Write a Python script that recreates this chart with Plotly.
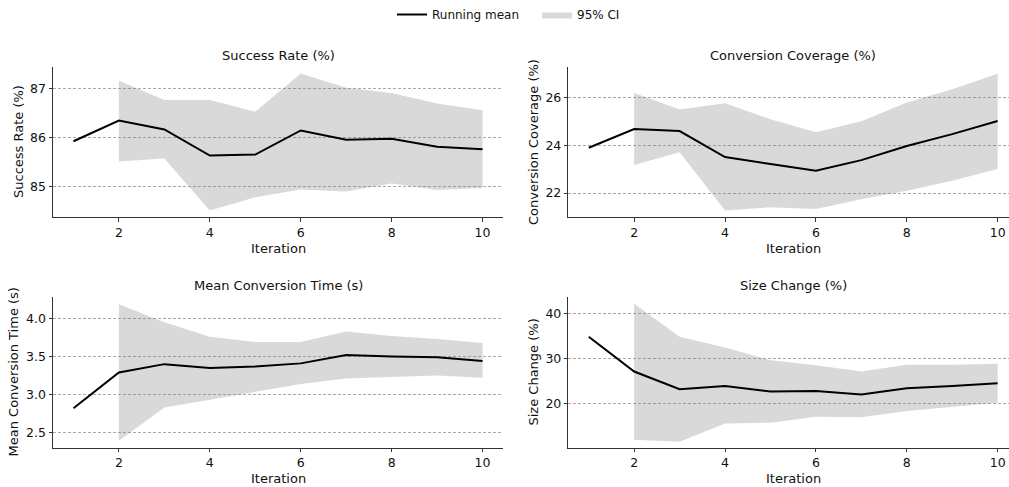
import plotly.graph_objects as go

W, H = 1009, 487

iterations = [1, 2, 3, 4, 5, 6, 7, 8, 9, 10]
ci_iterations = [2, 3, 4, 5, 6, 7, 8, 9, 10]

success_mean = [85.92, 86.34, 86.16, 85.63, 85.65, 86.14, 85.95, 85.97, 85.81, 85.76]
success_hi = [87.15, 86.76, 86.76, 86.52, 87.30, 87.01, 86.90, 86.69, 86.55]
success_lo = [85.51, 85.57, 84.51, 84.78, 84.94, 84.90, 85.06, 84.93, 84.97]

coverage_mean = [23.90, 24.68, 24.60, 23.51, 23.22, 22.94, 23.38, 23.97, 24.47, 25.02]
coverage_hi = [26.19, 25.50, 25.76, 25.09, 24.55, 25.01, 25.79, 26.35, 27.00]
coverage_lo = [23.18, 23.71, 21.27, 21.41, 21.33, 21.74, 22.10, 22.52, 23.01]

time_mean = [2.82, 3.29, 3.40, 3.35, 3.37, 3.41, 3.52, 3.50, 3.49, 3.44]
time_hi = [4.19, 3.95, 3.76, 3.69, 3.69, 3.83, 3.77, 3.73, 3.68]
time_lo = [2.39, 2.83, 2.93, 3.04, 3.14, 3.21, 3.23, 3.25, 3.22]

size_mean = [34.8, 27.1, 23.2, 23.9, 22.7, 22.8, 22.0, 23.4, 23.9, 24.5]
size_hi = [42.1, 34.8, 32.4, 29.6, 28.5, 27.1, 28.6, 28.6, 28.8]
size_lo = [12.0, 11.6, 15.6, 15.8, 17.1, 17.0, 18.4, 19.3, 20.2]

titles = ["Success Rate (%)", "Conversion Coverage (%)", "Mean Conversion Time (s)", "Size Change (%)"]
ylabels = ["Success Rate (%)", "Conversion Coverage (%)", "Mean Conversion Time (s)", "Size Change (%)"]
x_ticks = [2, 4, 6, 8, 10]
y_ticks = [[85, 86, 87], [22, 24, 26], [2.5, 3.0, 3.5, 4.0], [20, 30, 40]]
y_ranges = [[84.38, 87.43], [21.0, 27.28], [2.30, 4.28], [10.27, 43.5]]
x_ranges = [[0.55, 10.45], [0.55, 10.25], [0.55, 10.45], [0.55, 10.25]]

series = [
    (success_mean, success_lo, success_hi),
    (coverage_mean, coverage_lo, coverage_hi),
    (time_mean, time_lo, time_hi),
    (size_mean, size_lo, size_hi),
]

# panel pixel boxes: (left, right, top, bottom)
boxes = [(53, 503, 67, 217), (568.3, 1009, 67, 217), (53, 503, 297.3, 447.7), (568.3, 1009, 297.3, 447.7)]
title_pos = [(278, 55.5), (793, 55.5), (278, 285.7), (793, 285.7)]
xlabel_pos = [(278, 248), (793, 248), (278, 478), (793, 478)]
ylabel_pos = [(18, 142), (533, 142), (13, 372.5), (533, 372.5)]

FILL = "rgba(128,128,128,0.3)"
FONT = "DejaVu Sans"
TXT = "#111"

fig = go.Figure()
layout = {}
annotations = []
for i, (m, lo, hi) in enumerate(series):
    k = "" if i == 0 else str(i + 1)
    xa, ya = "x" + k, "y" + k
    fig.add_trace(go.Scatter(x=ci_iterations, y=lo, xaxis=xa, yaxis=ya, mode="lines",
                             line=dict(width=0, color=FILL), showlegend=False, hoverinfo="skip"))
    fig.add_trace(go.Scatter(x=ci_iterations, y=hi, xaxis=xa, yaxis=ya, mode="lines",
                             line=dict(width=0, color=FILL), fill="tonexty", fillcolor=FILL,
                             name="95% CI", showlegend=(i == 0), legendrank=2))
    fig.add_trace(go.Scatter(x=iterations, y=m, xaxis=xa, yaxis=ya, mode="lines",
                             line=dict(width=2, color="black"), name="Running mean",
                             showlegend=(i == 0), legendrank=1))
    l, r, t, b = boxes[i]
    common = dict(showline=True, linecolor="#333", linewidth=1, ticks="outside", ticklen=3.5,
                  tickwidth=1, tickcolor="#333", tickfont=dict(size=12.5, color=TXT, family=FONT),
                  zeroline=False, mirror=False)
    layout["xaxis" + k] = dict(domain=[l / W, r / W], anchor=ya, range=x_ranges[i],
                               tickvals=x_ticks, showgrid=False, **common)
    layout["yaxis" + k] = dict(domain=[1 - b / H, 1 - t / H], anchor=xa, range=y_ranges[i],
                               tickvals=y_ticks[i], showgrid=True, gridcolor="#aaaaaa",
                               gridwidth=0.7, griddash="3px,2px",
                               tickformat=".1f" if i == 2 else "d", **common)
    tx, ty = title_pos[i]
    annotations.append(dict(text=titles[i], x=tx / W, y=1 - ty / H, xref="paper", yref="paper",
                            xanchor="center", yanchor="middle", showarrow=False,
                            font=dict(size=13, color=TXT, family=FONT)))
    lx, ly = xlabel_pos[i]
    annotations.append(dict(text="Iteration", x=lx / W, y=1 - ly / H, xref="paper", yref="paper",
                            xanchor="center", yanchor="middle", showarrow=False,
                            font=dict(size=13, color=TXT, family=FONT)))
    yx, yy = ylabel_pos[i]
    annotations.append(dict(text=ylabels[i], x=yx / W, y=1 - yy / H, xref="paper", yref="paper",
                            xanchor="center", yanchor="middle", showarrow=False, textangle=-90,
                            font=dict(size=13, color=TXT, family=FONT)))

fig.update_layout(
    width=W, height=H,
    margin=dict(l=0, r=0, t=0, b=0),
    paper_bgcolor="white", plot_bgcolor="white",
    font=dict(family=FONT, color=TXT),
    showlegend=True,
    legend=dict(orientation="h", x=392 / W, xanchor="left", y=1.0, yanchor="top",
                font=dict(size=12, family=FONT, color=TXT), itemwidth=30,
                entrywidth=100, entrywidthmode="pixels",
                bgcolor="rgba(0,0,0,0)", traceorder="normal"),
    annotations=annotations,
    **layout,
)

fig.write_html("out.html", config={"displayModeBar": False},
               post_script="document.body.style.margin='0';document.body.style.overflow='hidden';")
